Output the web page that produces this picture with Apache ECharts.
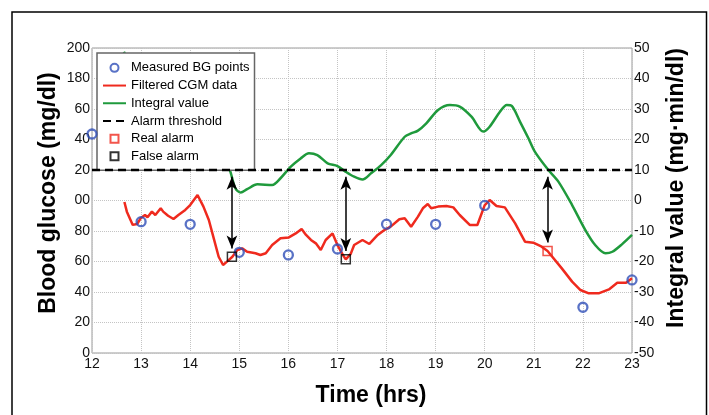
<!DOCTYPE html>
<html>
<head>
<meta charset="utf-8">
<script src="https://cdn.jsdelivr.net/npm/echarts@6/dist/echarts.min.js"></script>
<style>
  html, body { margin: 0; padding: 0; background: #fff; }
  #chart { width: 709px; height: 415px; }
</style>
</head>
<body>
<div id="chart"></div>
<script>
// time axis (hrs)
var timeTicks = [12, 13, 14, 15, 16, 17, 18, 19, 20, 21, 22, 23]
// left axis labels as printed (clipped in the original figure)
var leftTickLabels = ['0', '20', '40', '60', '80', '00', '20', '40', '60', '180', '200']
var rightTickLabels = ['-50', '-40', '-30', '-20', '-10', '0', '10', '20', '30', '40', '50']

// measured BG points (mg/dl)
var bgTimes = [12.0, 13.0, 14.0, 15.0, 16.0, 17.0, 18.0, 19.0, 20.0, 22.0, 23.0]
var bgValues = [143.6, 86.1, 84.4, 66.0, 64.3, 68.2, 84.5, 84.4, 96.8, 30.0, 47.9]

// filtered CGM data (mg/dl)
var cgmTimes = [12.66, 12.71, 12.83, 12.92, 12.99, 13.08, 13.13, 13.22, 13.29, 13.40, 13.45, 13.55, 13.66, 13.76, 13.90,
  14.00, 14.15, 14.27, 14.38, 14.48, 14.58, 14.67, 14.75, 14.86, 14.96, 15.06, 15.16, 15.33, 15.43, 15.54, 15.67, 15.84,
  16.01, 16.15, 16.27, 16.36, 16.46, 16.56, 16.66, 16.76, 16.90, 17.00, 17.11, 17.17, 17.27, 17.34, 17.51, 17.65, 17.82,
  17.95, 18.09, 18.26, 18.37, 18.50, 18.64, 18.74, 18.84, 18.91, 19.05, 19.22, 19.36, 19.49, 19.70, 19.85, 20.00, 20.10,
  20.24, 20.41, 20.62, 20.82, 20.99, 21.16, 21.28, 21.57, 21.78, 21.95, 22.12, 22.32, 22.53, 22.70, 22.88, 23.00]
var cgmValues = [99, 92.7, 84, 84.6, 88.3, 90.5, 89, 92.7, 90.5, 94.9, 92.7, 90, 87.9, 90.5, 93.8,
  97, 103.6, 96, 87.2, 75.2, 63.1, 57.7, 59.9, 63.1, 67.5, 68.6, 66.4, 65.4, 64.3, 65.4, 70.8, 75.2,
  75.8, 78.4, 81.3, 77.4, 74.1, 71.9, 67.5, 74.1, 78.4, 70.8, 64.3, 61.4, 65, 70.8, 74.1, 71.5, 77.4,
  80.5, 83, 87.7, 88.3, 82.8, 89.4, 94.9, 97.7, 94.9, 96, 96.4, 95.5, 90.5, 83.9, 83.9, 97, 100.3,
  96.4, 95.5, 85, 73, 72.3, 69.7, 66.9, 55.5, 46.8, 41.3, 39.1, 39.1, 41.7, 46.1, 46.1, 49]

// integral value (mg·min/dl)
var integralTimes = [12.65, 12.8, 13.2, 13.6, 14.0, 14.4, 14.75, 14.82, 14.92, 15.03, 15.16, 15.37, 15.67, 15.84,
  16.05, 16.25, 16.42, 16.59, 16.80, 17.00, 17.17, 17.34, 17.51, 17.69, 17.89, 18.09, 18.37, 18.50, 18.64, 18.81,
  19.05, 19.29, 19.49, 19.73, 19.97, 20.10, 20.31, 20.45, 20.55, 20.72, 20.89, 21.02, 21.28, 21.50, 21.78, 22.05,
  22.25, 22.46, 22.60, 22.80, 23.00]
var integralValues = [48.8, 44, 36, 29, 23, 17, 12.2, 9.4, 4.0, 2.6, 3.7, 5.3, 5.1, 7.3,
  11.1, 13.8, 15.5, 14.9, 12.2, 11.3, 9.4, 7.8, 6.9, 9, 11.6, 15, 20.9, 22.0, 22.9, 25.3,
  29.7, 31.3, 30.8, 27.5, 22.6, 24.2, 29.1, 31.3, 31.0, 25.8, 20.4, 16.0, 10.3, 6.2, -1.5, -9.7,
  -14.6, -17.3, -16.8, -14.3, -11.3]

var alarmThreshold = 10
var realAlarmTimes = [21.28]
var realAlarmValues = [66.9]
var falseAlarmTimes = [14.85, 17.17]
var falseAlarmValues = [63.1, 61.4]

function zip(xs, ys) {
    var out = []
    for (var i = 0; i < xs.length; i++) out.push([xs[i], ys[i]])
    return out
}

// threshold on the left scale (right -50..50 maps to left 0..200)
var thresholdLeft = (alarmThreshold + 50) * 2

function arrows() {
    var times = falseAlarmTimes.concat(realAlarmTimes)
    var vals = falseAlarmValues.concat(realAlarmValues)
    var arr = []
    for (var i = 0; i < times.length; i++) {
        arr.push([{coord: [times[i], thresholdLeft - 4.5]}, {coord: [times[i], vals[i] + 5.5]}])
    }
    return arr
}

var font = '"Liberation Sans", Arial, sans-serif'
var red = '#ef2a1e'
var green = '#1f9a3c'
var blue = '#2f4fb8'
var squareIcon = 'path://M0,0L10,0L10,10L0,10Z'

var chart = echarts.init(document.getElementById('chart'))

var option = {
    animation: false,
    textStyle: {fontFamily: font},
    grid: {
        left: 92, right: 77, top: 48, bottom: 62,
        show: true, borderColor: '#9a9a9a', borderWidth: 1, backgroundColor: 'transparent'
    },
    legend: {
        orient: 'vertical',
        left: 97, top: 53,
        padding: [6, 5, 5, 5],
        itemWidth: 23, itemHeight: 8, itemGap: 0,
        backgroundColor: '#fff',
        borderColor: '#666', borderWidth: 1.5,
        textStyle: {fontSize: 13, color: '#000', fontFamily: font, lineHeight: 17.7},
        data: [
            {name: 'Measured BG points'},
            {name: 'Filtered CGM data', itemStyle: {opacity: 0}},
            {name: 'Integral value', itemStyle: {opacity: 0}},
            {name: 'Alarm threshold', itemStyle: {opacity: 0}},
            {name: 'Real alarm', icon: squareIcon},
            {name: 'False alarm', icon: squareIcon}
        ],
        selectedMode: false
    },
    xAxis: {
        type: 'value', min: 12, max: 23, interval: 1,
        axisLine: {show: false},
        axisTick: {show: false},
        axisLabel: {color: '#111', fontSize: 14, margin: 4},
        splitLine: {show: true, lineStyle: {color: '#c4c4c4', type: 'dotted', width: 1}}
    },
    yAxis: [{
        type: 'value', min: 0, max: 200, interval: 20,
        axisLine: {show: false},
        axisTick: {show: false},
        axisLabel: {
            color: '#111', fontSize: 14, margin: 2,
            formatter: function (v) { return leftTickLabels[Math.round(v / 20)] }
        },
        splitLine: {show: true, lineStyle: {color: '#c4c4c4', type: 'dotted', width: 1}}
    }, {
        type: 'value', min: -50, max: 50, interval: 10,
        position: 'right',
        axisLine: {show: false},
        axisTick: {show: false},
        axisLabel: {
            color: '#111', fontSize: 14, margin: 2,
            formatter: function (v) { return rightTickLabels[Math.round((v + 50) / 10)] }
        },
        splitLine: {show: false}
    }],
    series: [{
        name: 'Filtered CGM data',
        type: 'line',
        data: zip(cgmTimes, cgmValues),
        symbol: 'none',
        lineStyle: {color: red, width: 2.5},
        itemStyle: {color: red},
        z: 3,
        markLine: {
            silent: true,
            symbol: ['arrow', 'arrow'],
            symbolSize: [8, 13],
            label: {show: false},
            lineStyle: {color: '#000', width: 1.5, type: 'solid'},
            data: arrows()
        }
    }, {
        name: 'Integral value',
        type: 'line',
        yAxisIndex: 1,
        data: zip(integralTimes, integralValues),
        symbol: 'none',
        smooth: 0.3,
        lineStyle: {color: green, width: 2.5},
        itemStyle: {color: green},
        z: 3
    }, {
        name: 'Alarm threshold',
        type: 'line',
        yAxisIndex: 1,
        data: [[12, alarmThreshold], [23, alarmThreshold]],
        symbol: 'none',
        lineStyle: {color: '#000', width: 2.5, type: [8, 5]},
        itemStyle: {color: '#000'},
        z: 4
    }, {
        name: 'Measured BG points',
        type: 'scatter',
        data: zip(bgTimes, bgValues),
        symbol: 'circle',
        symbolSize: 9,
        clip: false,
        itemStyle: {color: 'rgba(255,255,255,0)', borderColor: blue, borderWidth: 2.3},
        z: 5
    }, {
        name: 'Real alarm',
        type: 'scatter',
        data: zip(realAlarmTimes, realAlarmValues),
        symbol: 'rect',
        symbolSize: 9,
        itemStyle: {color: 'rgba(255,255,255,0)', borderColor: red, borderWidth: 1.5},
        z: 6
    }, {
        name: 'False alarm',
        type: 'scatter',
        data: zip(falseAlarmTimes, falseAlarmValues),
        symbol: 'rect',
        symbolSize: 9,
        itemStyle: {color: 'rgba(255,255,255,0)', borderColor: '#000', borderWidth: 1.5},
        z: 6
    }],
    graphic: [{
        type: 'rect',
        shape: {x: 12, y: 12, width: 694.5, height: 440},
        style: {fill: 'none', stroke: '#000', lineWidth: 1.5},
        silent: true
    }, {
        type: 'text', x: 49, y: 193, rotation: Math.PI / 2,
        style: {text: 'Blood glucose (mg/dl)', font: 'bold 23px ' + font, fill: '#000', align: 'center', verticalAlign: 'middle'}
    }, {
        type: 'text', x: 677, y: 188, rotation: Math.PI / 2,
        style: {text: 'Integral value (mg\u00b7min/dl)', font: 'bold 23px ' + font, fill: '#000', align: 'center', verticalAlign: 'middle'}
    }, {
        type: 'text', x: 371, y: 396,
        style: {text: 'Time (hrs)', font: 'bold 23px ' + font, fill: '#000', align: 'center', verticalAlign: 'middle'}
    }]
}

chart.setOption(option)
</script>
</body>
</html>
